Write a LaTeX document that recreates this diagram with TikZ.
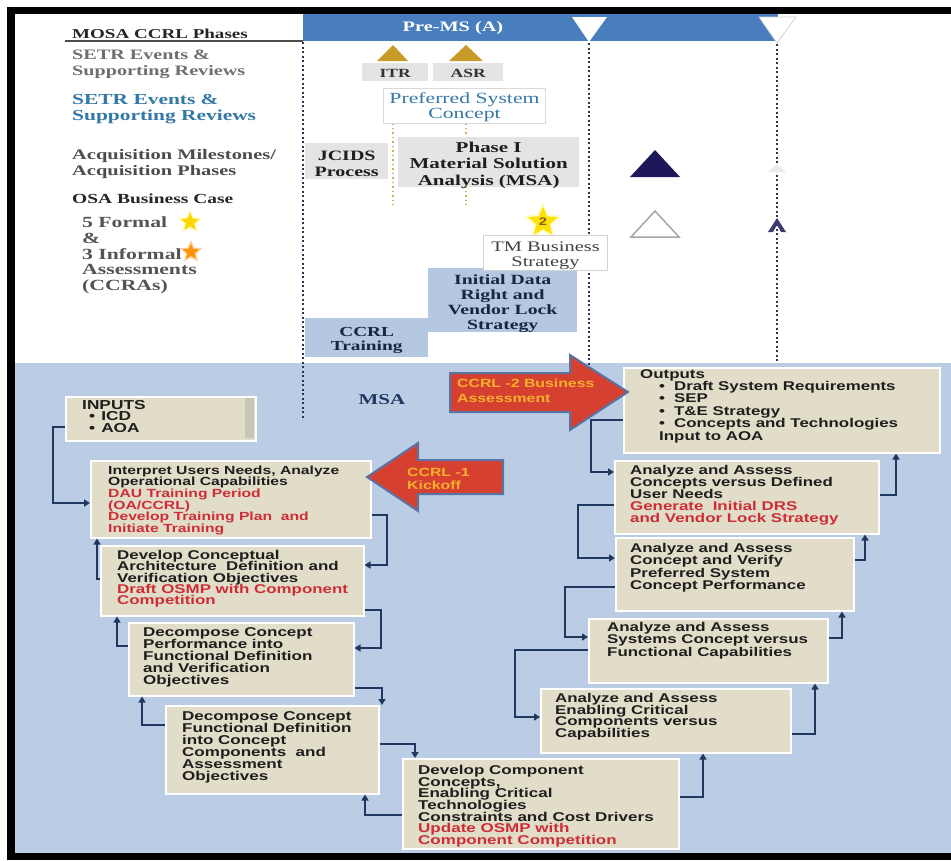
\documentclass[tikz,border=0pt]{standalone}
\usepackage{fontspec}
\usetikzlibrary{shapes.geometric,arrows.meta}
\newfontfamily\serifF{Liberation Serif}[FakeStretch=1.4]
\newfontfamily\sansF{Liberation Sans}[FakeStretch=1.33]
\definecolor{bgblue}{RGB}{186,205,228}
\definecolor{barblue}{RGB}{72,126,190}
\definecolor{tanc}{RGB}{226,221,200}
\definecolor{navyc}{RGB}{31,56,96}
\definecolor{redt}{RGB}{205,45,55}
\definecolor{arrred}{RGB}{214,64,48}
\definecolor{arrborder}{RGB}{88,116,165}
\definecolor{orangetxt}{RGB}{246,176,44}
\definecolor{tealt}{RGB}{52,120,165}
\definecolor{ltblue}{RGB}{180,200,226}
\definecolor{greybox}{RGB}{228,228,228}
\definecolor{goldc}{RGB}{200,155,40}
\definecolor{darknavy}{RGB}{28,24,90}
\definecolor{dotc}{RGB}{50,50,80}
\definecolor{smallnavy}{RGB}{60,60,110}
\definecolor{stripc}{RGB}{200,198,185}
\definecolor{txtdark}{RGB}{30,30,30}
\lineskiplimit=-50pt
\newcommand\redl[1]{\textcolor{redt}{#1}}
\tikzset{
  tanbox/.style={fill=tanc, draw=white, line width=1.5pt, inner sep=0, anchor=north west},
  bt/.style={font=\sansF\bfseries\fontsize{12.7}{11.7}\selectfont, text=txtdark, align=left, anchor=north west, inner sep=0},
  lab/.style={align=left, anchor=north west, inner sep=0},
  greyb/.style={fill=greybox, inner sep=0, anchor=north west},
  ctext/.style={align=center, inner sep=0, yshift=-3pt},
  conn/.style={draw=navyc, line width=1.8pt, -{Triangle[length=6pt,width=7pt]}},
  dotline/.style={draw=dotc, line width=2pt, dash pattern=on 2pt off 2.5pt},
  golddot/.style={draw=goldc!80, line width=1.5pt, dash pattern=on 1.5pt off 3pt},
  redarrow/.style={fill=arrred, draw=arrborder, line width=2pt, line join=miter},
  arrtext/.style={font=\sansF\bfseries\fontsize{11.9}{13}\selectfont, text=orangetxt, align=left, anchor=north west, inner sep=0}
}
\begin{document}
\begin{tikzpicture}[x=1pt,y=-1pt]
\useasboundingbox (0,0) rectangle (951,860);
% background and frame
\fill[white] (0,0) rectangle (951,860);
\fill[bgblue] (15,363) rectangle (951,853);
\fill[black] (7,7) rectangle (951,14);
\fill[black] (7,7) rectangle (15,860);
\fill[black] (7,853) rectangle (951,860);

% phase bar
\fill[barblue] (303,14) rectangle (778,41);
\fill[white] (572,17) -- (607,17) -- (589,42) -- cycle;
\filldraw[fill=white, draw=gray!35, line width=0.8pt] (759,17) -- (796,17) -- (777,43) -- cycle;
\node[font=\serifF\bfseries\fontsize{14.5}{16}\selectfont, text=white, inner sep=0] (pre) at (453,28) {Pre-MS (A)};
\draw[gray!60!black, line width=1.3pt] (65,41) -- (303,41);

% dotted phase lines
\draw[dotline] (303,42) -- (303,420);
\draw[dotline] (589,43) -- (589,368);
\draw[dotline] (777,44) -- (777,363);
\draw[golddot] (393,123) -- (393,205);
\draw[golddot] (466,123) -- (466,205);

% left labels
\node[lab, font=\serifF\bfseries\fontsize{13.6}{16}\selectfont, text=black!85] (l1) at (72,28.5) {MOSA CCRL Phases};
\node[lab, font=\serifF\bfseries\fontsize{14.4}{16}\selectfont, text=black!57] (l2) at (72,49.5) {SETR Events \&\\Supporting Reviews};
\node[lab, font=\serifF\bfseries\fontsize{15.3}{16}\selectfont, text=tealt] (l3) at (72,94) {SETR Events \&\\Supporting Reviews};
\node[lab, font=\serifF\bfseries\fontsize{14.6}{16}\selectfont, text=black!70] (l4) at (72,149.3) {Acquisition Milestones/\\Acquisition Phases};
\node[lab, font=\serifF\bfseries\fontsize{13.9}{16}\selectfont, text=black!85] (l5) at (72,193.5) {OSA Business Case};
\node[lab, font=\serifF\bfseries\fontsize{15.5}{15.6}\selectfont, text=black!67] (l6) at (82,217) {5 Formal\\\&\\3 Informal\\Assessments\\(CCRAs)};
\node[star, star points=5, star point ratio=2.2, fill=yellow!30, minimum size=26, inner sep=0] (st1g) at (190,222) {};
\node[star, star points=5, star point ratio=2.2, fill=yellow!75!orange, minimum size=19, inner sep=0] (st1) at (190,222) {};
\node[star, star points=5, star point ratio=2.2, fill=orange!35, minimum size=24, inner sep=0] (st2g) at (191,252) {};
\node[star, star points=5, star point ratio=2.2, fill=orange!85!yellow, minimum size=17, inner sep=0] (st2) at (191,252) {};

% SETR reviews
\fill[goldc] (377,61) -- (408,61) -- (393,45) -- cycle;
\fill[goldc] (449,61) -- (483,61) -- (466,45) -- cycle;
\node[greyb, minimum width=66, minimum height=18] (itr) at (362,63) {};
\node[ctext, yshift=2pt, font=\serifF\bfseries\fontsize{12.5}{14}\selectfont, text=black!80] (itrt) at (itr.center) {ITR};
\node[greyb, minimum width=70, minimum height=18] (asr) at (433,63) {};
\node[ctext, yshift=2pt, font=\serifF\bfseries\fontsize{12.5}{14}\selectfont, text=black!80] (asrt) at (asr.center) {ASR};
\node[fill=white, draw=gray!30, line width=1pt, anchor=north west, inner sep=0, minimum width=162, minimum height=35] (psc) at (383,88) {};
\node[ctext, yshift=1.5pt, font=\serifF\fontsize{15.5}{15}\selectfont, text=tealt] (psct) at (psc.center) {Preferred System\\Concept};
\node[greyb, minimum width=83, minimum height=36] (jcids) at (305,143) {};
\node[ctext, font=\serifF\bfseries\fontsize{14.3}{16}\selectfont, text=txtdark] (jcidst) at (jcids.center) {JCIDS\\Process};
\node[greyb, minimum width=181, minimum height=50] (ph1) at (398,137) {};
\node[ctext, font=\serifF\bfseries\fontsize{15}{16.5}\selectfont, text=txtdark] (ph1t) at (ph1.center) {Phase I\\Material Solution\\Analysis (MSA)};

% milestones
\fill[darknavy] (630,177) -- (680,177) -- (655,150) -- cycle;
\draw[gray!70, line width=1.5pt] (631,237) -- (679,237) -- (655,211) -- cycle;
\fill[gray!15] (768,172) -- (786,172) -- (777,164) -- cycle;
\fill[smallnavy] (768,232) -- (777,218) -- (786,232) -- (781,232) -- (777,225) -- (773,232) -- cycle;

% business case items
\node[star, star points=5, star point ratio=2.2, fill=yellow!25, minimum size=40, inner sep=0] (s2g) at (543,222) {};
\node[star, star points=5, star point ratio=2.2, fill=yellow!85!orange, minimum size=31, inner sep=0, font=\sansF\bfseries\fontsize{11}{11}\selectfont, text=brown!70!black] (s2) at (543,222) {2};
\node[fill=ltblue, anchor=north west, inner sep=0, minimum width=149, minimum height=64] (idr) at (428,268) {};
\node[ctext, font=\serifF\bfseries\fontsize{14.1}{15}\selectfont, text=navyc!70!black] (idrt) at (idr.center) {Initial Data\\Right and\\Vendor Lock\\Strategy};
\node[fill=white, draw=gray!35, line width=1pt, anchor=north west, inner sep=0, minimum width=124, minimum height=35] (tmb) at (483,235) {};
\node[ctext, font=\serifF\fontsize{14.6}{15}\selectfont, text=black!75] (tmbt) at (tmb.center) {TM Business\\Strategy};
\node[fill=ltblue, anchor=north west, inner sep=0, minimum width=123, minimum height=39] (ccrlt) at (305,318) {};
\node[ctext, font=\serifF\bfseries\fontsize{13.8}{14}\selectfont, text=navyc!70!black] (ccrltt) at (ccrlt.center) {CCRL\\Training};

% MSA region
\node[font=\serifF\bfseries\fontsize{15}{16}\selectfont, text=navyc, inner sep=0] (msa) at (382,400) {MSA};

% boxes
\node[tanbox, minimum width=190, minimum height=44] (b1) at (65,396) {};
\fill[stripc] (245,398) rectangle (254,438);
\node[bt, font=\sansF\bfseries\fontsize{13}{11.5}\selectfont] (b1t) at (82,400) {INPUTS\\\hspace*{7pt}\textbullet\hspace*{6pt}ICD\\\hspace*{7pt}\textbullet\hspace*{6pt}AOA};

\node[tanbox, minimum width=280, minimum height=77] (b2) at (90,460) {};
\node[bt, font=\sansF\bfseries\fontsize{11.8}{11.6}\selectfont] (b2t) at (108,465.5) {Interpret Users Needs, Analyze\\Operational Capabilities\\\redl{DAU Training Period}\\\redl{(OA/CCRL)}\\\redl{Develop Training Plan\ \ and}\\\redl{Initiate Training}};

\node[tanbox, minimum width=263, minimum height=70] (b3) at (100,545) {};
\node[bt, font=\sansF\bfseries\fontsize{12.7}{11.3}\selectfont] (b3t) at (117,550) {Develop Conceptual\\Architecture\ \ Definition and\\Verification Objectives\\\redl{Draft OSMP with Component}\\\redl{Competition}};

\node[tanbox, minimum width=225, minimum height=73] (b4) at (128,622) {};
\node[bt, font=\sansF\bfseries\fontsize{12.8}{12}\selectfont] (b4t) at (143,627) {Decompose Concept\\Performance into\\Functional Definition\\and Verification\\Objectives};

\node[tanbox, minimum width=213, minimum height=88] (b5) at (165,705) {};
\node[bt, font=\sansF\bfseries\fontsize{12.8}{12.1}\selectfont] (b5t) at (182,711) {Decompose Concept\\Functional Definition\\into Concept\\Components\ \ and\\Assessment\\Objectives};

\node[tanbox, minimum width=276, minimum height=90] (b6) at (402,758) {};
\node[bt, font=\sansF\bfseries\fontsize{12.8}{11.7}\selectfont] (b6t) at (418,765) {Develop Component\\Concepts,\\Enabling Critical\\Technologies\\Constraints and Cost Drivers\\\redl{Update OSMP with}\\\redl{Component Competition}};

\node[tanbox, minimum width=250, minimum height=64] (b7) at (540,688) {};
\node[bt] (b7t) at (555,693) {Analyze and Assess\\Enabling Critical\\Components versus\\Capabilities};

\node[tanbox, minimum width=239, minimum height=64] (b8) at (588,618) {};
\node[bt, font=\sansF\bfseries\fontsize{12.7}{12.5}\selectfont] (b8t) at (607,622) {Analyze and Assess\\Systems Concept versus\\Functional Capabilities};

\node[tanbox, minimum width=238, minimum height=73] (b9) at (615,537) {};
\node[bt, font=\sansF\bfseries\fontsize{12.7}{12.3}\selectfont] (b9t) at (630,543) {Analyze and Assess\\Concept and Verify\\Preferred System\\Concept Performance};

\node[tanbox, minimum width=264, minimum height=73] (b10) at (614,460) {};
\node[bt, font=\sansF\bfseries\fontsize{12.7}{12}\selectfont] (b10t) at (630,465.5) {Analyze and Assess\\Concepts versus Defined\\User Needs\\\redl{Generate\ \ Initial DRS}\\\redl{and Vendor Lock Strategy}};

\node[tanbox, minimum width=316, minimum height=85] (b11) at (623,367) {};
\node[bt, font=\sansF\bfseries\fontsize{12.7}{12.4}\selectfont] (b11t) at (640,369) {Outputs\\\hspace*{19pt}\textbullet\hspace*{9pt}Draft System Requirements\\\hspace*{19pt}\textbullet\hspace*{9pt}SEP\\\hspace*{19pt}\textbullet\hspace*{9pt}T\&E Strategy\\\hspace*{19pt}\textbullet\hspace*{9pt}Concepts and Technologies\\\hspace*{19pt}Input to AOA};

% connectors, left side (down)
\draw[conn] (b1.west |- 0,427) -- (53,427) -- (53,503) -- (b2.west |- 0,503);
\draw[conn] (b2.east |- 0,515) -- (387,515) -- (387,565) -- (b3.east |- 0,565);
\draw[conn] (b3.west |- 0,579) -- (97,579) -- (97,0 |- b2.south);
\draw[conn] (b3.east |- 0,610) -- (381,610) -- (381,648) -- (b4.east |- 0,648);
\draw[conn] (b4.west |- 0,646) -- (117,646) -- (117,0 |- b3.south);
\draw[conn] (b4.east |- 0,688) -- (382,688) -- (382,0 |- b5.north);
\draw[conn] (b5.west |- 0,725) -- (142,725) -- (142,0 |- b4.south);
\draw[conn] (b5.east |- 0,744) -- (415,744) -- (415,0 |- b6.north);
\draw[conn] (b6.west |- 0,815) -- (365,815) -- (365,0 |- b5.south);
% right side (up)
\draw[conn] (b6.east |- 0,797) -- (703,797) -- (703,0 |- b7.south);
\draw[conn] (b7.east |- 0,734) -- (815,734) -- (815,0 |- b8.south);
\draw[conn] (b8.west |- 0,650) -- (515,650) -- (515,717) -- (b7.west |- 0,717);
\draw[conn] (b8.east |- 0,638) -- (842,638) -- (842,0 |- b9.south);
\draw[conn] (b9.west |- 0,587) -- (565,587) -- (565,637) -- (b8.west |- 0,637);
\draw[conn] (b9.east |- 0,560) -- (865,560) -- (865,0 |- b10.south);
\draw[conn] (b10.west |- 0,505) -- (578,505) -- (578,558) -- (b9.west |- 0,558);
\draw[conn] (b10.east |- 0,495) -- (896,495) -- (896,0 |- b11.south);
\draw[conn] (b11.west |- 0,420) -- (591,420) -- (591,472) -- (b10.west |- 0,472);

% red CCRL arrows
\filldraw[redarrow] (450,373) -- (570,373) -- (570,355) -- (628,392) -- (570,430) -- (570,412) -- (450,412) -- cycle;
\node[arrtext, font=\sansF\bfseries\fontsize{11.9}{15}\selectfont] (ccrl2) at (457,379) {CCRL -2 Business\\Assessment};
\filldraw[redarrow] (367,477) -- (418,443) -- (418,460) -- (503,460) -- (503,494) -- (418,494) -- (418,511) -- cycle;
\node[arrtext] (ccrl1) at (407,467.5) {CCRL -1\\Kickoff};
\end{tikzpicture}
\end{document}
